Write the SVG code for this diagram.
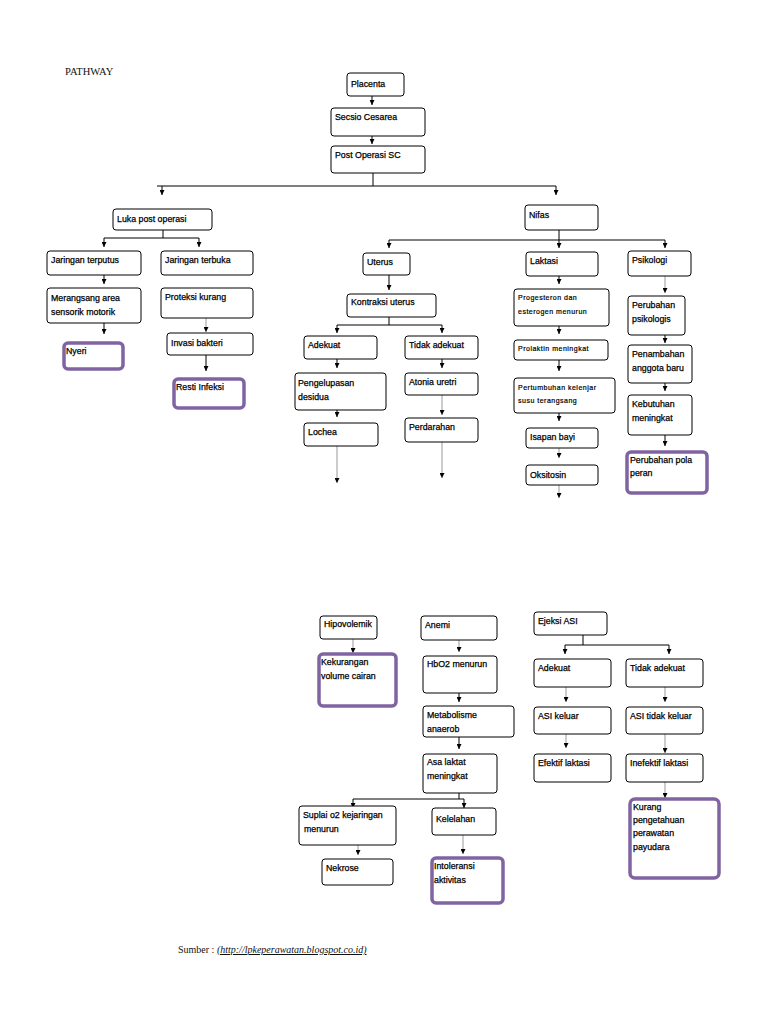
<svg xmlns="http://www.w3.org/2000/svg" width="768" height="1024" viewBox="0 0 768 1024">
<defs>
<marker id="ah" viewBox="0 0 6 6" refX="6" refY="3" markerWidth="5" markerHeight="5" markerUnits="userSpaceOnUse" orient="auto">
<path d="M0,0 L6,3 L0,6 z" fill="#000"/>
</marker>
</defs>
<style>
.b{fill:#fff;stroke:#000;stroke-width:1}
.p{fill:#fff;stroke:#8064a2;stroke-width:3.5}
.t{font-family:"Liberation Sans",Arial,sans-serif;font-size:8.8px;fill:#000;stroke:#000;stroke-width:0.25}
.s{font-family:"Liberation Sans",Arial,sans-serif;font-size:7px;letter-spacing:0.5px;fill:#000;stroke:#000;stroke-width:0.2}
.c line{stroke:#000;stroke-width:1}
.c .g{stroke:#999}
.a{marker-end:url(#ah)}
.h{font-family:"Liberation Serif","Times New Roman",serif;font-size:10.5px;fill:#111}
</style>
<rect width="768" height="1024" fill="#fff"/>
<text class="h" x="65" y="75">PATHWAY</text>

<g class="c" id="connectors">
<line class="a" x1="372" y1="96" x2="372" y2="105"/>
<line class="a" x1="372" y1="136" x2="372" y2="144"/>
<line x1="373" y1="173" x2="373" y2="186"/>
<line x1="157" y1="186" x2="556" y2="186"/>
<line class="a" x1="162" y1="186" x2="162" y2="195"/>
<line class="a" x1="556" y1="186" x2="556" y2="195"/>
<line x1="163" y1="230" x2="163" y2="238"/>
<line x1="104" y1="238" x2="199" y2="238"/>
<line class="a" x1="104" y1="238" x2="104" y2="247"/>
<line class="a" x1="199" y1="238" x2="199" y2="247"/>
<line class="a" x1="104" y1="275" x2="104" y2="284"/>
<line class="a" x1="104" y1="323" x2="104" y2="334"/>
<line class="a g" x1="206" y1="318" x2="206" y2="332"/>
<line class="a" x1="206" y1="355" x2="206" y2="371"/>
<line x1="559" y1="230" x2="559" y2="240"/>
<line x1="389" y1="240" x2="665" y2="240"/>
<line class="a" x1="389" y1="240" x2="389" y2="248"/>
<line class="a" x1="559" y1="240" x2="559" y2="248"/>
<line class="a" x1="665" y1="240" x2="665" y2="248"/>
<line class="a" x1="389" y1="275" x2="389" y2="290"/>
<line x1="389" y1="317" x2="389" y2="325"/>
<line x1="337" y1="325" x2="442" y2="325"/>
<line class="a" x1="337" y1="325" x2="337" y2="333"/>
<line class="a" x1="442" y1="325" x2="442" y2="333"/>
<line class="a" x1="337" y1="359" x2="337" y2="368"/>
<line class="a" x1="442" y1="359" x2="442" y2="368"/>
<line class="a" x1="337" y1="410" x2="337" y2="417"/>
<line class="a g" x1="442" y1="395" x2="442" y2="415"/>
<line class="a g" x1="337" y1="446" x2="337" y2="483"/>
<line class="a g" x1="442" y1="442" x2="442" y2="478"/>
<line class="a" x1="559" y1="276" x2="559" y2="284"/>
<line class="a" x1="559" y1="326" x2="559" y2="334"/>
<line class="a" x1="559" y1="360" x2="559" y2="371"/>
<line class="a" x1="559" y1="413" x2="559" y2="421"/>
<line class="a g" x1="559" y1="448" x2="559" y2="458"/>
<line class="a g" x1="559" y1="485" x2="559" y2="498"/>
<line class="a g" x1="665" y1="276" x2="665" y2="293"/>
<line class="a" x1="665" y1="335" x2="665" y2="343"/>
<line class="a" x1="665" y1="383" x2="665" y2="391"/>
<line class="a" x1="665" y1="435" x2="665" y2="446"/>
<line class="a g" x1="353" y1="639" x2="353" y2="653"/>
<line class="a g" x1="459" y1="640" x2="459" y2="652"/>
<line class="a" x1="459" y1="693" x2="459" y2="702"/>
<line class="a" x1="459" y1="737" x2="459" y2="749"/>
<line x1="459" y1="793" x2="459" y2="799"/>
<line x1="353" y1="799" x2="464" y2="799"/>
<line class="a" x1="353" y1="799" x2="353" y2="808"/>
<line class="a" x1="464" y1="799" x2="464" y2="808"/>
<line class="a g" x1="358" y1="845" x2="358" y2="855"/>
<line class="a g" x1="463" y1="835" x2="463" y2="854"/>
<line x1="583" y1="635" x2="583" y2="645"/>
<line x1="565" y1="645" x2="669" y2="645"/>
<line class="a" x1="565" y1="645" x2="565" y2="654"/>
<line class="a" x1="669" y1="645" x2="669" y2="654"/>
<line class="a g" x1="566" y1="687" x2="566" y2="702"/>
<line class="a g" x1="665" y1="687" x2="665" y2="702"/>
<line class="a g" x1="566" y1="734" x2="566" y2="748"/>
<line class="a g" x1="665" y1="734" x2="665" y2="753"/>
<line class="a g" x1="665" y1="782" x2="665" y2="798"/>
</g>

<g id="placenta"><rect class="b" x="347" y="73" width="57" height="23" rx="3"/><text class="t" x="351" y="87">Placenta</text></g>
<g id="secsio"><rect class="b" x="331" y="108" width="94" height="28" rx="3"/><text class="t" x="335" y="120">Secsio Cesarea</text></g>
<g id="postop"><rect class="b" x="331" y="146" width="94" height="27" rx="3"/><text class="t" x="335" y="158">Post Operasi SC</text></g>

<g id="luka"><rect class="b" x="113" y="209" width="99" height="21" rx="3"/><text class="t" x="117" y="222">Luka post operasi</text></g>
<g id="terputus"><rect class="b" x="47" y="251" width="94" height="24" rx="3"/><text class="t" x="51" y="263">Jaringan terputus</text></g>
<g id="terbuka"><rect class="b" x="161" y="251" width="92" height="24" rx="3"/><text class="t" x="165" y="263">Jaringan terbuka</text></g>
<g id="merangsang"><rect class="b" x="47" y="288" width="94" height="35" rx="3"/><text class="t" x="51" y="301">Merangsang area</text><text class="t" x="51" y="315">sensorik motorik</text></g>
<g id="proteksi"><rect class="b" x="161" y="288" width="92" height="30" rx="3"/><text class="t" x="165" y="300">Proteksi kurang</text></g>
<g id="nyeri"><rect class="p" x="64" y="343" width="59" height="26" rx="4"/><text class="t" x="66" y="354">Nyeri</text></g>
<g id="invasi"><rect class="b" x="167" y="333" width="86" height="22" rx="3"/><text class="t" x="171" y="346">Invasi bakteri</text></g>
<g id="resti"><rect class="p" x="174" y="379" width="70" height="29" rx="4"/><text class="t" x="176" y="390">Resti Infeksi</text></g>

<g id="nifas"><rect class="b" x="525" y="205" width="73" height="25" rx="3"/><text class="t" x="529" y="218">Nifas</text></g>
<g id="uterus"><rect class="b" x="363" y="253" width="47" height="22" rx="3"/><text class="t" x="367" y="265">Uterus</text></g>
<g id="kontraksi"><rect class="b" x="347" y="294" width="89" height="23" rx="3"/><text class="t" x="351" y="305">Kontraksi uterus</text></g>
<g id="adekuat1"><rect class="b" x="304" y="336" width="73" height="23" rx="3"/><text class="t" x="308" y="348">Adekuat</text></g>
<g id="tidakadekuat1"><rect class="b" x="405" y="336" width="73" height="23" rx="3"/><text class="t" x="409" y="348">Tidak adekuat</text></g>
<g id="pengelupasan"><rect class="b" x="295" y="373" width="91" height="37" rx="3"/><text class="t" x="298" y="386">Pengelupasan</text><text class="t" x="298" y="400">desidua</text></g>
<g id="atonia"><rect class="b" x="405" y="373" width="73" height="22" rx="3"/><text class="t" x="409" y="385">Atonia uretri</text></g>
<g id="lochea"><rect class="b" x="304" y="423" width="74" height="23" rx="3"/><text class="t" x="308" y="435">Lochea</text></g>
<g id="perdarahan"><rect class="b" x="405" y="418" width="73" height="24" rx="3"/><text class="t" x="409" y="430">Perdarahan</text></g>

<g id="laktasi"><rect class="b" x="526" y="252" width="72" height="24" rx="3"/><text class="t" x="530" y="264">Laktasi</text></g>
<g id="progesteron"><rect class="b" x="514" y="289" width="95" height="37" rx="3"/><text class="s" x="518" y="300">Progesteron dan</text><text class="s" x="518" y="314">esterogen menurun</text></g>
<g id="prolaktin"><rect class="b" x="514" y="340" width="94" height="20" rx="3"/><text class="s" x="518" y="351">Prolaktin meningkat</text></g>
<g id="pertumbuhan"><rect class="b" x="514" y="378" width="101" height="35" rx="3"/><text class="s" x="518" y="390">Pertumbuhan kelenjar</text><text class="s" x="518" y="403">susu terangsang</text></g>
<g id="isapan"><rect class="b" x="526" y="428" width="72" height="20" rx="3"/><text class="t" x="530" y="440">Isapan bayi</text></g>
<g id="oksitosin"><rect class="b" x="526" y="465" width="72" height="20" rx="3"/><text class="t" x="530" y="478">Oksitosin</text></g>

<g id="psikologi"><rect class="b" x="628" y="251" width="63" height="25" rx="3"/><text class="t" x="632" y="263">Psikologi</text></g>
<g id="perubahanpsi"><rect class="b" x="628" y="296" width="57" height="39" rx="3"/><text class="t" x="632" y="308">Perubahan</text><text class="t" x="632" y="322">psikologis</text></g>
<g id="penambahan"><rect class="b" x="628" y="345" width="64" height="38" rx="3"/><text class="t" x="632" y="357">Penambahan</text><text class="t" x="632" y="371">anggota baru</text></g>
<g id="kebutuhan"><rect class="b" x="628" y="395" width="64" height="40" rx="3"/><text class="t" x="632" y="407">Kebutuhan</text><text class="t" x="632" y="421">meningkat</text></g>
<g id="polaperan"><rect class="p" x="627" y="452" width="80" height="41" rx="4"/><text class="t" x="630" y="463">Perubahan pola</text><text class="t" x="630" y="476">peran</text></g>

<g id="hipovolemik"><rect class="b" x="320" y="616" width="57" height="23" rx="3"/><text class="t" x="324" y="627">Hipovolemik</text></g>
<g id="kekurangan"><rect class="p" x="319" y="654" width="77" height="52" rx="4"/><text class="t" x="321" y="665">Kekurangan</text><text class="t" x="321" y="679">volume cairan</text></g>
<g id="anemi"><rect class="b" x="421" y="616" width="76" height="24" rx="3"/><text class="t" x="425" y="628">Anemi</text></g>
<g id="hbo2"><rect class="b" x="423" y="656" width="74" height="37" rx="3"/><text class="t" x="427" y="667">HbO2 menurun</text></g>
<g id="metabolisme"><rect class="b" x="423" y="706" width="91" height="31" rx="3"/><text class="t" x="427" y="718">Metabolisme</text><text class="t" x="427" y="732">anaerob</text></g>
<g id="asalaktat"><rect class="b" x="423" y="754" width="74" height="39" rx="3"/><text class="t" x="427" y="765">Asa laktat</text><text class="t" x="427" y="779">meningkat</text></g>
<g id="suplai"><rect class="b" x="299" y="806" width="97" height="39" rx="3"/><text class="t" x="303" y="818">Suplai o2 kejaringan</text><text class="t" x="304" y="832">menurun</text></g>
<g id="kelelahan"><rect class="b" x="432" y="808" width="64" height="27" rx="3"/><text class="t" x="436" y="822">Kelelahan</text></g>
<g id="nekrose"><rect class="b" x="322" y="859" width="71" height="26" rx="3"/><text class="t" x="326" y="871">Nekrose</text></g>
<g id="intoleransi"><rect class="p" x="432" y="858" width="71" height="45" rx="4"/><text class="t" x="434" y="869">Intoleransi</text><text class="t" x="434" y="883">aktivitas</text></g>

<g id="ejeksi"><rect class="b" x="534" y="612" width="73" height="23" rx="3"/><text class="t" x="538" y="624">Ejeksi ASI</text></g>
<g id="adekuat2"><rect class="b" x="534" y="659" width="77" height="28" rx="3"/><text class="t" x="538" y="671">Adekuat</text></g>
<g id="tidakadekuat2"><rect class="b" x="626" y="659" width="77" height="28" rx="3"/><text class="t" x="630" y="671">Tidak adekuat</text></g>
<g id="asikeluar"><rect class="b" x="534" y="707" width="77" height="27" rx="3"/><text class="t" x="538" y="719">ASI keluar</text></g>
<g id="asitidakkeluar"><rect class="b" x="626" y="707" width="77" height="27" rx="3"/><text class="t" x="630" y="719">ASI tidak keluar</text></g>
<g id="efektif"><rect class="b" x="534" y="754" width="77" height="28" rx="3"/><text class="t" x="538" y="766">Efektif laktasi</text></g>
<g id="inefektif"><rect class="b" x="626" y="754" width="77" height="28" rx="3"/><text class="t" x="630" y="766">Inefektif laktasi</text></g>
<g id="kurangpengetahuan"><rect class="p" x="630" y="799" width="89" height="79" rx="5"/><text class="t" x="633" y="810">Kurang</text><text class="t" x="633" y="823">pengetahuan</text><text class="t" x="633" y="836">perawatan</text><text class="t" x="633" y="850">payudara</text></g>

<text x="178" y="953" font-family="'Liberation Serif','Times New Roman',serif" font-size="10" fill="#111">Sumber :  <tspan font-style="italic" text-decoration="underline">(http://lpkeperawatan.blogspot.co.id)</tspan></text>
</svg>
